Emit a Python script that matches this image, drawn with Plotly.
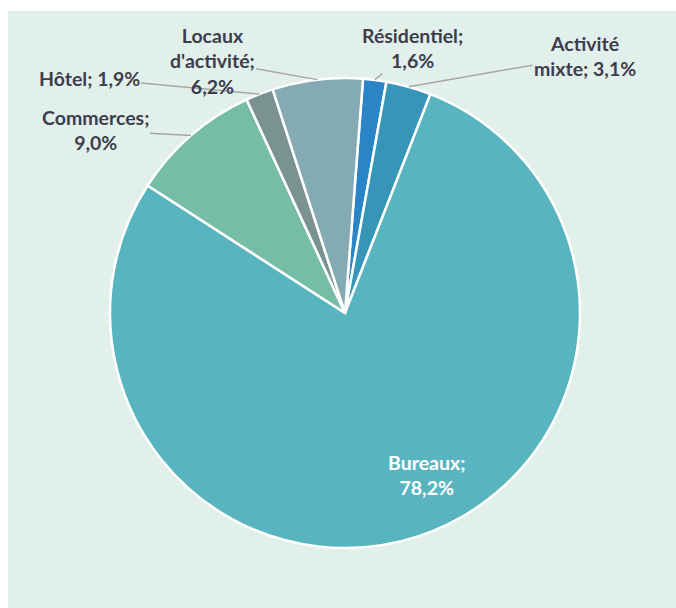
import math
import plotly.graph_objects as go

labels = ["Résidentiel", "Activité mixte", "Bureaux", "Commerces", "Hôtel", "Locaux d'activité"]
values = [1.6, 3.1, 78.2, 9.0, 1.9, 6.2]
display_text = ["Résidentiel;<br>1,6%", "Activité<br>mixte; 3,1%", "Bureaux;<br>78,2%",
                "Commerces;<br>9,0%", "Hôtel; 1,9%", "Locaux<br>d'activité;<br>6,2%"]
colors = ["#2a84c6", "#3796b8", "#58b5bf", "#76bda7", "#7a9290", "#84aab3"]

W, H = 676, 608
CX, CY, R = 345, 313, 235
ROT = 4.4

# label text centres (pixels)
label_pos = [(413, 48), (585, 56), (427, 475), (95, 130), (89, 78), (212, 61)]

fig = go.Figure(go.Pie(
    labels=labels, values=values, sort=False, direction="clockwise", rotation=ROT,
    marker=dict(colors=colors, line=dict(color="white", width=2.5)),
    textinfo="none", hoverinfo="label+percent", showlegend=False,
    domain=dict(x=[(CX - R) / W, (CX + R) / W], y=[1 - (CY + R) / H, 1 - (CY - R) / H]),
))

FONT = "Lato"
FS = 19.5
total = sum(values)
cum = 0.0
annotations = []
for i, v in enumerate(values):
    mid = ROT + (cum + v / 2) / total * 360.0
    cum += v
    tx, ty = label_pos[i]
    txt = "<b>" + display_text[i].replace("<br>", "</b><br><b>") + "</b>"
    if labels[i] == "Bureaux":
        annotations.append(dict(x=tx / W, y=1 - ty / H, xref="paper", yref="paper",
                                xanchor="center", yanchor="middle",
                                text=txt, showarrow=False,
                                font=dict(family=FONT, size=FS, color="white")))
        continue
    px = CX + R * math.sin(math.radians(mid))
    py = CY - R * math.cos(math.radians(mid))
    annotations.append(dict(x=px / W, y=1 - py / H, xref="paper", yref="paper",
                            ax=tx - px, ay=ty - py, text=txt,
                            showarrow=True, arrowhead=0, arrowwidth=1.5,
                            arrowcolor="#a6a6a6", standoff=0,
                            font=dict(family=FONT, size=FS, color="#3d3d4d")))

fig.update_layout(
    width=W, height=H, margin=dict(l=0, r=0, t=0, b=0),
    paper_bgcolor="white",
    shapes=[dict(type="rect", xref="paper", yref="paper", x0=8 / W, x1=1, y0=0, y1=1 - 11 / H,
                 fillcolor="#e2f0eb", line=dict(width=0), layer="below")],
    annotations=annotations,
    font=dict(family=FONT),
)

fig.write_html("out.html", config={"displayModeBar": False},
               post_script="document.body.style.margin='0';document.body.style.overflow='hidden';")
